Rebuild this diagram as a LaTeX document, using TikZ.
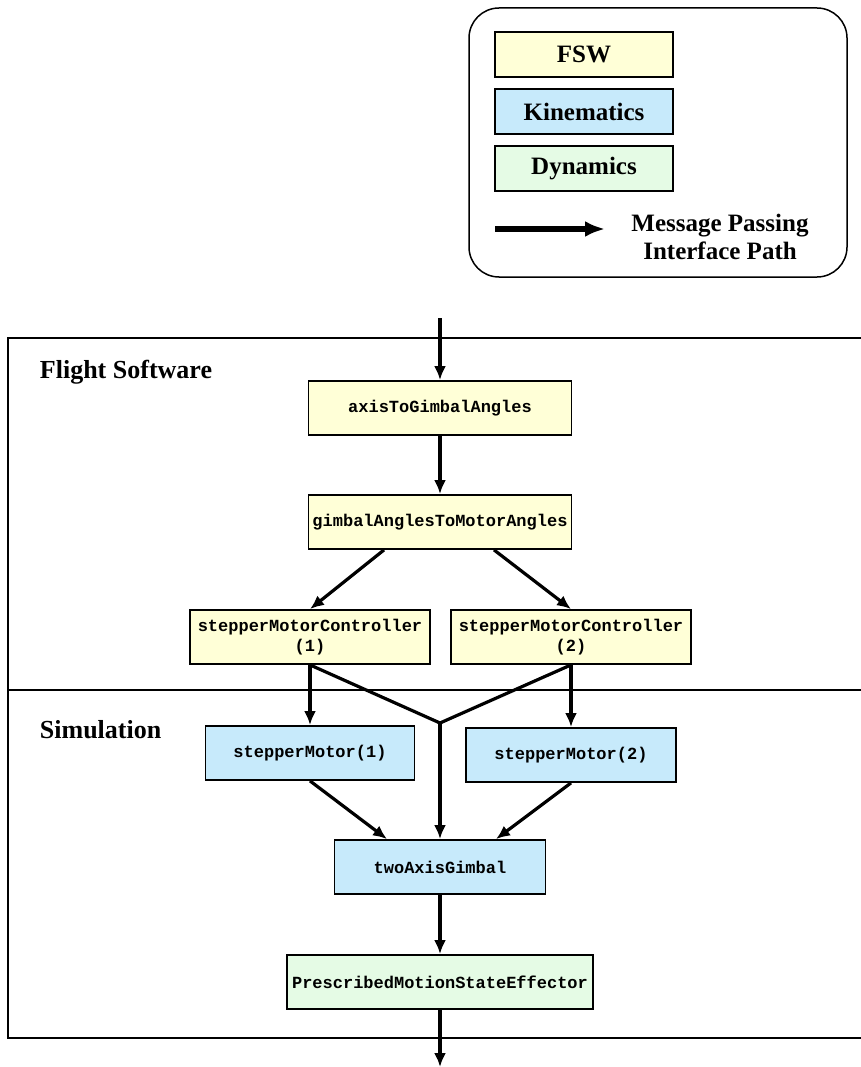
\documentclass[tikz,border=0pt]{standalone}
\usepackage{fontspec}
\setmainfont{Liberation Serif}
\setmonofont{Liberation Mono}
\usetikzlibrary{arrows.meta,positioning}
\definecolor{fswcol}{RGB}{255,255,215}
\definecolor{kincol}{RGB}{199,234,251}
\definecolor{dyncol}{RGB}{229,251,229}

\begin{document}
\begin{tikzpicture}[x=1pt,y=-1pt,>={Latex[length=14pt,width=12pt]},line width=3.2pt,
  modbox/.style={draw,line width=1.8pt,inner sep=0pt,minimum height=54pt,align=center,
    font=\ttfamily\bfseries\fontsize{17}{20}\selectfont},
  fsw/.style={modbox,fill=fswcol},
  kin/.style={modbox,fill=kincol},
  dyn/.style={modbox,fill=dyncol},
  legbox/.style={draw,line width=1.8pt,inner sep=0pt,minimum width=178pt,minimum height=45pt,
    font=\bfseries\fontsize{25}{28}\selectfont},
  title/.style={anchor=west,font=\bfseries\fontsize{26}{28}\selectfont}]
\useasboundingbox (0,0) rectangle (860,1067);

% legend
\draw[line width=1.5pt,rounded corners=30pt] (469,8) rectangle (847,277);
\node[legbox,fill=fswcol] (lfsw) at (584,54.5) {FSW};
\node[legbox,fill=kincol] (lkin) at (584,111.5) {Kinematics};
\node[legbox,fill=dyncol] (ldyn) at (584,168.5) {Dynamics};
\coordinate (la) at (495,229);
\node[align=center,font=\bfseries\fontsize{25}{28}\selectfont] (ltxt) at (720,237) {Message Passing\\Interface Path};
\draw[->,line width=5.5pt,>={Latex[length=20pt,width=16pt]}] (la) -- ++(110,0);

% frames
\draw[line width=1.4pt] (8,338) rectangle (880,690);
\draw[line width=1.4pt] (8,690) rectangle (880,1038);
\node[title] (fswlbl) at (35,372) {Flight Software};
\node[title] (simlbl) at (35,730) {Simulation};

% modules
\node[fsw,minimum width=263pt] (atga) at (440,408) {axisToGimbalAngles};
\node[fsw,minimum width=263pt] (gatma) at (440,522) {gimbalAnglesToMotorAngles};
\node[fsw,minimum width=240pt] (smc1) at (310,637) {stepperMotorController\\(1)};
\node[fsw,minimum width=240pt] (smc2) at (571,637) {stepperMotorController\\(2)};
\node[kin,minimum width=209pt] (sm1) at (310,753) {stepperMotor(1)};
\node[kin,minimum width=210pt] (sm2) at (571,755) {stepperMotor(2)};
\node[kin,minimum width=211pt] (tag) at (440,867) {twoAxisGimbal};
\node[dyn,minimum width=306pt] (pmse) at (440,982) {PrescribedMotionStateEffector};

\coordinate (in) at (440,318);
\coordinate (out) at (440,1067);
\coordinate (j) at (440,723);

\draw[->] (in) -- (atga);
\draw[->] (atga) -- (gatma);
\draw[->] ([xshift=-56pt]gatma.south) -- (smc1.north);
\draw[->] ([xshift=54pt]gatma.south) -- (smc2.north);
\draw[->] (smc1.south) -- (sm1.north);
\draw[->] (smc2.south) -- (sm2.north);
\draw (smc1.south) -- (j) -- (smc2.south);
\draw[->] (j) -- (tag.north);
\draw[->] (sm1.south) -- ([xshift=-53pt]tag.north);
\draw[->] (sm2.south) -- ([xshift=56pt]tag.north);
\draw[->] (tag) -- (pmse);
\draw[->] (pmse) -- (out);
\end{tikzpicture}
\end{document}
